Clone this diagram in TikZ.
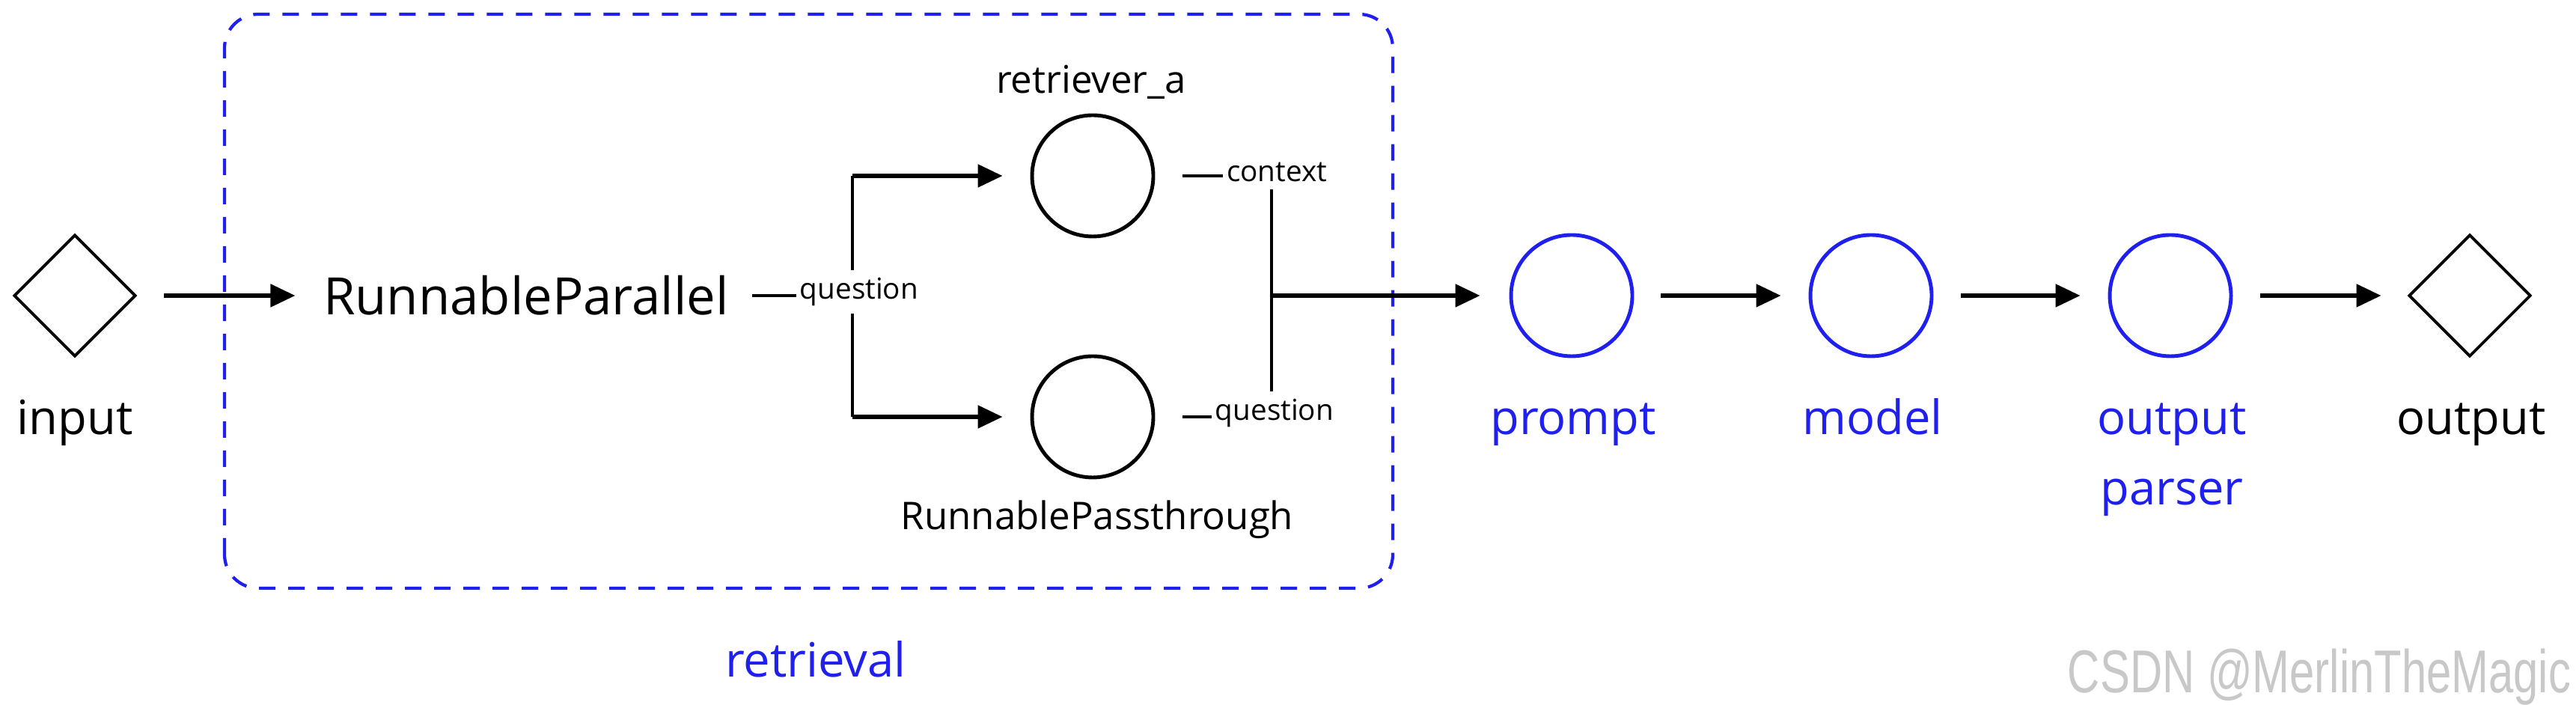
\documentclass[tikz,border=0pt]{standalone}
\usepackage{fontspec}
\setmainfont{Open Sans}
\setsansfont{Liberation Sans}
\usetikzlibrary{arrows.meta,shapes.geometric}
\definecolor{flowblue}{RGB}{32,32,238}
\definecolor{markgray}{RGB}{200,200,200}

\tikzset{
    flow/.style={line width=1.5pt,-{Triangle[length=3.3mm,width=3mm]},shorten <=0.36cm,shorten >=0.37cm},
    wire/.style={line width=1pt},
    step circ/.style={circle,draw,line width=1.4pt,minimum size=1.62cm,inner sep=0pt},
    endpoint/.style={diamond,draw,line width=1.1pt,minimum width=1.63cm,minimum height=1.63cm,inner sep=0pt},
    biglabel/.style={anchor=base,font=\fontsize{18}{22}\selectfont,inner sep=0pt},
    midlabel/.style={anchor=base,font=\fontsize{14.5}{17}\selectfont,inner sep=0pt},
    edgelabel/.style={fill=white,font=\fontsize{11}{13}\selectfont,inner xsep=1.5pt,inner ysep=3pt},
}

\begin{document}
\begin{tikzpicture}[x=1cm,y=1cm]
    \useasboundingbox (0,0) rectangle (34.42,9.42);

    % retrieval group
    \draw[flowblue,line width=1.2pt,dash pattern=on 0.22cm off 0.17cm,rounded corners=0.45cm]
        (3.00,1.56) rectangle (18.61,9.23);
    \node[biglabel,flowblue] (retlbl) at (10.90,0.37) {retrieval};

    % main chain
    \node[endpoint] (in) at (1.00,5.47) {};
    \node[biglabel] (inlbl) at (1.00,3.61) {input};
    \node[font=\fontsize{19.6}{23}\selectfont,inner sep=0pt] (par) at (7.03,5.47) {RunnableParallel};

    \node[step circ] (ra) at (14.60,7.07) {};
    \node[step circ] (rp) at (14.60,3.85) {};
    \node[midlabel] (ralbl) at (14.58,8.17) {retriever\_a};
    \node[midlabel] (rplbl) at (14.66,2.34) {RunnablePassthrough};

    \node[step circ,flowblue] (prompt) at (21.00,5.47) {};
    \node[step circ,flowblue] (model) at (25.00,5.47) {};
    \node[step circ,flowblue] (parser) at (29.00,5.47) {};
    \node[endpoint] (out) at (33.00,5.47) {};

    \node[biglabel,flowblue] (promptlbl) at (21.02,3.61) {prompt};
    \node[biglabel,flowblue] (modellbl) at (25.02,3.61) {model};
    \node[biglabel,flowblue,align=center] (parserlbl) at (29.02,2.67) {output\\[5pt]parser};
    \node[biglabel] (outlbl) at (33.02,3.61) {output};

    \coordinate (fork) at (11.39,5.47);
    \coordinate (forkT) at (11.39,7.07);
    \coordinate (forkB) at (11.39,3.85);
    \coordinate (mergeT) at (16.99,7.07);
    \coordinate (mergeB) at (16.99,3.85);
    \coordinate (merge) at (16.99,5.47);

    % fork and merge
    \draw[wire] (forkT) -- (forkB);
    \draw[wire] (mergeT) -- (mergeB);
    \draw[flow,shorten <=0pt] (forkT) -- (ra);
    \draw[flow,shorten <=0pt] (forkB) -- (rp);
    \draw[flow,shorten <=0pt,shorten >=0.39cm] (merge) -- (prompt);

    \draw[wire,line width=1.4pt,shorten <=0.30cm] (par) -- (fork)
        node[edgelabel,pos=1,xshift=0.09cm,yshift=0.05cm] (q1) {question};
    \draw[wire,line width=1.4pt,shorten <=0.37cm] (ra) -- (mergeT)
        node[edgelabel,pos=1,xshift=0.07cm,yshift=0.05cm] (ctx) {context};
    \draw[wire,line width=1.4pt,shorten <=0.37cm] (rp) -- (mergeB)
        node[edgelabel,pos=1,xshift=0.04cm,yshift=0.05cm] (q2) {question};

    \draw[flow] (in) -- (par);
    \draw[flow] (prompt) -- (model);
    \draw[flow] (model) -- (parser);
    \draw[flow,shorten >=0.35cm] (parser) -- (out);

    \node[anchor=base east,markgray,inner sep=0pt] (mark) at (34.36,0.16)
        {\scalebox{0.74}[1]{\sffamily\fontsize{23}{26}\selectfont CSDN @MerlinTheMagic}};
\end{tikzpicture}
\end{document}
